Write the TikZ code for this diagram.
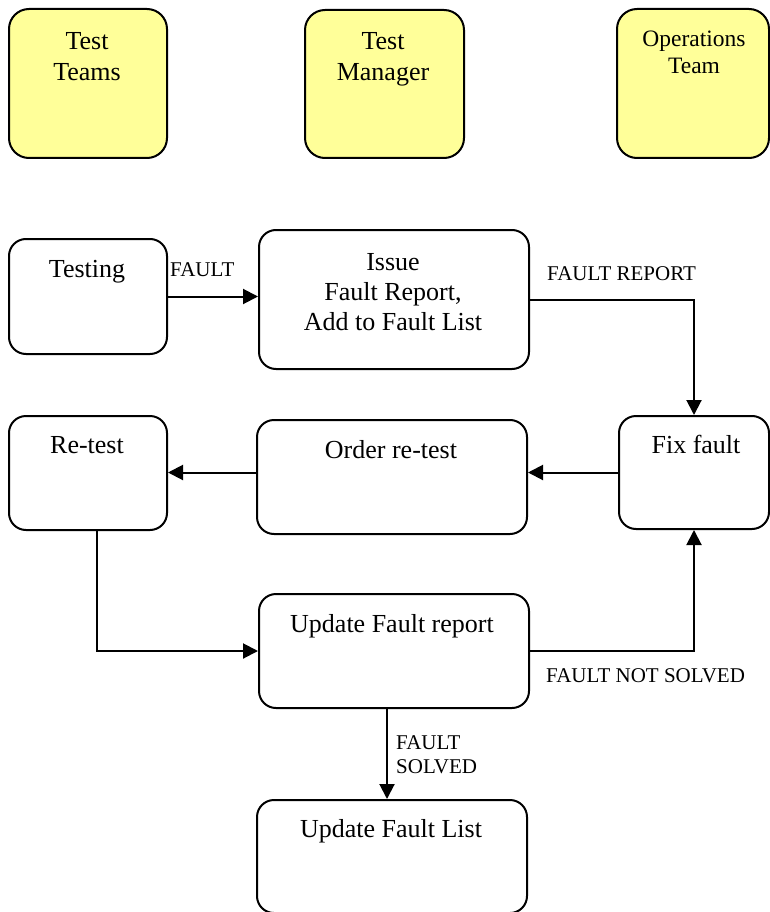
\documentclass[tikz,border=0pt]{standalone}
\usepackage{fontspec}
\setmainfont{Liberation Serif}
\usetikzlibrary{arrows.meta}

\begin{document}
\begin{tikzpicture}[x=1pt,y=1pt,yscale=-1,xscale=1,
  rolebox/.style={draw, line width=2pt, rounded corners=20pt, fill={rgb, 255:red, 255; green, 255; blue, 153 }, anchor=north west, inner sep=0pt},
  procbox/.style={draw, line width=2pt, rounded corners=17pt, anchor=north west, inner sep=0pt},
  bigtxt/.style={inner sep=0pt, font=\rmfamily\fontsize{26}{31}\selectfont, align=center},
  smalltxt/.style={inner sep=0pt, font=\rmfamily\fontsize{21}{24}\selectfont, align=left},
  flow/.style={line width=2pt, -{Triangle[length=15pt,width=15pt]}}
]
\useasboundingbox (0,0) rectangle (769,912);

%Rounded Rect [id:teams] 
\node [rolebox, minimum width=158, minimum height=149] (teams) at (8,8) {};
%Rounded Rect [id:manager] 
\node [rolebox, minimum width=159, minimum height=148] (manager) at (304,9) {};
%Rounded Rect [id:ops] 
\node [rolebox, minimum width=152, minimum height=149] (ops) at (616,8) {};

%Rounded Rect [id:testing] 
\node [procbox, minimum width=158, minimum height=115] (testing) at (8,238) {};
%Rounded Rect [id:issue] 
\node [procbox, minimum width=270, minimum height=139] (issue) at (258,229) {};
%Rounded Rect [id:retest] 
\node [procbox, minimum width=158, minimum height=114] (retest) at (8,415) {};
%Rounded Rect [id:order] 
\node [procbox, minimum width=270, minimum height=114] (order) at (256,419) {};
%Rounded Rect [id:fixfault] 
\node [procbox, minimum width=150, minimum height=113] (fixfault) at (618,415) {};
%Rounded Rect [id:update] 
\node [procbox, minimum width=270, minimum height=114] (update) at (258,593) {};
%Rounded Rect [id:flist] 
\node [procbox, minimum width=270, minimum height=113] (flist) at (256,799) {};

%Connectors
\draw [flow] (testing.east) -- (testing.east -| issue.west);
\draw [flow] (issue.east) -| (fixfault.north);
\draw [flow] (fixfault.west) -- (fixfault.west -| order.east);
\draw [flow] (fixfault.west -| order.west) -- (fixfault.west -| retest.east);
\draw [flow] ([xshift=9]retest.south) |- (update.west);
\draw [flow] (update.east) -| (fixfault.south);
\draw [flow] ([xshift=-7]update.south) -- ([xshift=-7]update.south |- flist.north);

% Text Node
\node [bigtxt, anchor=north] (teamstxt) at (87,32) {Test\\Teams};
% Text Node
\node [bigtxt, anchor=north] (managertxt) at (383,32) {Test\\Manager};
% Text Node
\node [bigtxt, anchor=north, font=\rmfamily\fontsize{23.5}{27}\selectfont] (opstxt) at (694,31) {Operations\\Team};
% Text Node
\node [bigtxt, anchor=base] (testingtxt) at (87,277) {Testing};
% Text Node
\node [bigtxt, anchor=north, font=\rmfamily\fontsize{26}{30}\selectfont] (issuetxt) at (393,253) {Issue\\Fault Report,\\Add to Fault List};
% Text Node
\node [bigtxt, anchor=base] (retesttxt) at (87,453) {Re-test};
% Text Node
\node [bigtxt, anchor=base] (ordertxt) at (391,458) {Order re-test};
% Text Node
\node [bigtxt, anchor=base] (fixfaulttxt) at (696,453) {Fix fault};
% Text Node
\node [bigtxt, anchor=base] (updatetxt) at (392,632) {Update Fault report};
% Text Node
\node [bigtxt, anchor=base] (flisttxt) at (391,837) {Update Fault List};

% Text Node
\node [smalltxt, anchor=base west] (faultlbl) at (170,276) {FAULT};
% Text Node
\node [smalltxt, anchor=base west] (reportlbl) at (547,280) {FAULT REPORT};
% Text Node
\node [smalltxt, anchor=base west] (notsolvedlbl) at (546,682) {FAULT NOT SOLVED};
% Text Node
\node [smalltxt, anchor=north west] (solvedlbl) at (396,735) {FAULT\\SOLVED};

\end{tikzpicture}
\end{document}
